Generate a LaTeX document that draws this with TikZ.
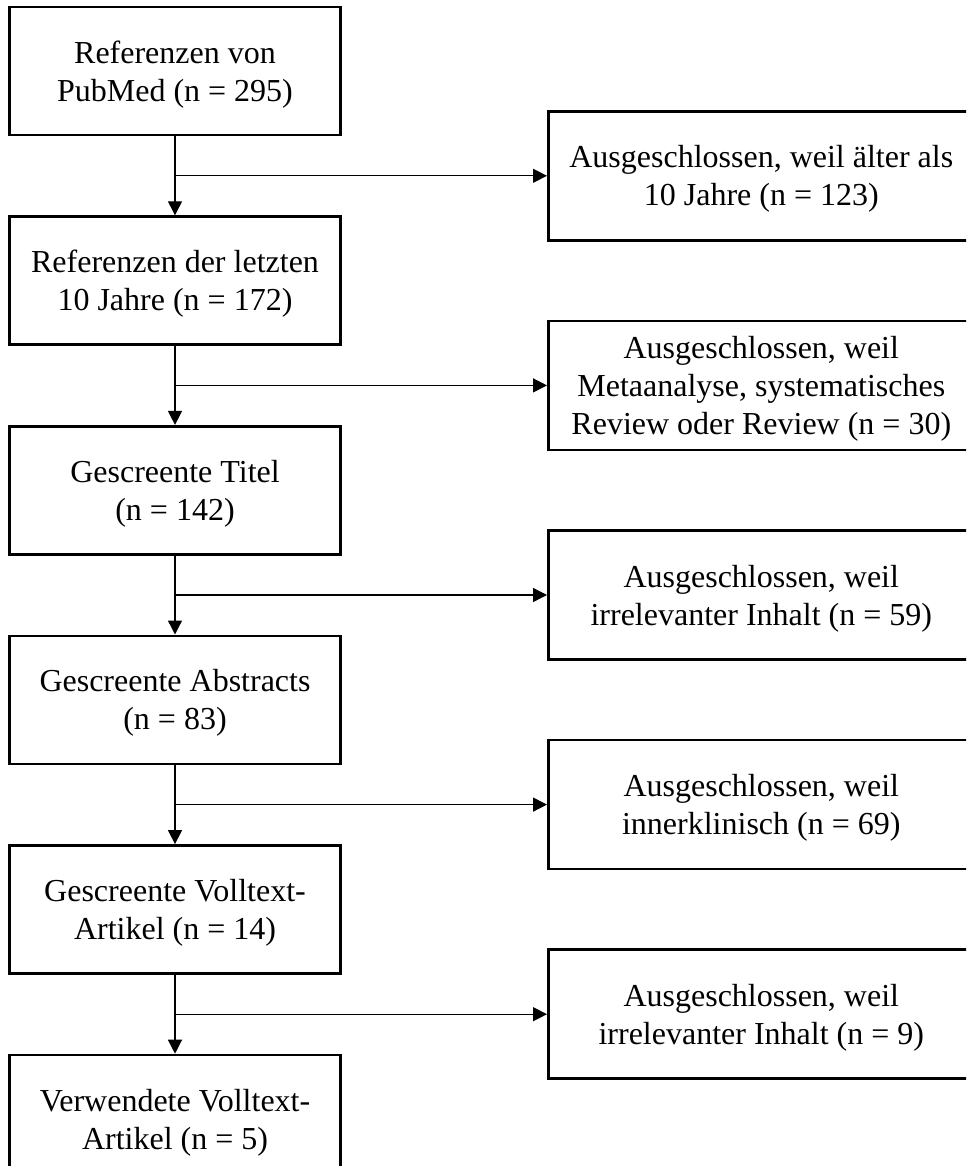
\documentclass[tikz,border=0pt]{standalone}
\usepackage{fontspec}
\setmainfont{Liberation Serif}
\usetikzlibrary{arrows.meta,positioning,calc}

\begin{document}
\begin{tikzpicture}[
  node distance=79pt,
  stage/.style={draw=black, line width=2.6pt, align=center,
                minimum width=331pt, minimum height=128pt,
                inner sep=0pt, text depth=-5pt,
                font=\fontsize{32}{38}\selectfont},
  excluded/.style={stage, minimum width=426pt, minimum height=129pt,
                   anchor=west},
  arrow/.style={-{Triangle[length=14pt, width=14pt]}, line width=1.3pt,
                draw=black}
]
  \useasboundingbox (0,0) rectangle (966pt,-1166pt);
  \clip (0,0) rectangle (966pt,-1166pt);

  \node[stage] (pubmed) at (175pt,-71pt) {Referenzen von\\PubMed (n = 295)};
  \node[stage, below=of pubmed] (recent) {Referenzen der letzten\\10 Jahre (n = 172)};
  \node[stage, below=of recent] (titles) {Gescreente Titel\\(n = 142)};
  \node[stage, below=of titles] (abstracts) {Gescreente Abstracts\\(n = 83)};
  \node[stage, below=of abstracts] (fulltext) {Gescreente Volltext-\\Artikel (n = 14)};
  \node[stage, below=of fulltext] (used) {Verwendete Volltext-\\Artikel (n = 5)};

  \coordinate (split1) at ($(pubmed.south)!0.5!(recent.north)$);
  \coordinate (split2) at ($(recent.south)!0.5!(titles.north)$);
  \coordinate (split3) at ($(titles.south)!0.5!(abstracts.north)$);
  \coordinate (split4) at ($(abstracts.south)!0.5!(fulltext.north)$);
  \coordinate (split5) at ($(fulltext.south)!0.5!(used.north)$);

  \node[excluded] (old) at ([xshift=372pt]split1)
    {Ausgeschlossen, weil älter als\\10 Jahre (n = 123)};
  \node[excluded] (reviews) at ([xshift=372pt]split2)
    {Ausgeschlossen, weil\\Metaanalyse, systematisches\\Review oder Review (n = 30)};
  \node[excluded] (offtopic) at ([xshift=372pt]split3)
    {Ausgeschlossen, weil\\irrelevanter Inhalt (n = 59)};
  \node[excluded] (inclinic) at ([xshift=372pt]split4)
    {Ausgeschlossen, weil\\innerklinisch (n = 69)};
  \node[excluded] (irrelevant) at ([xshift=372pt]split5)
    {Ausgeschlossen, weil\\irrelevanter Inhalt (n = 9)};

  \draw[arrow] (pubmed) -- (recent);
  \draw[arrow] (recent) -- (titles);
  \draw[arrow] (titles) -- (abstracts);
  \draw[arrow] (abstracts) -- (fulltext);
  \draw[arrow] (fulltext) -- (used);
  \draw[arrow] (split1) -- (old);
  \draw[arrow] (split2) -- (reviews);
  \draw[arrow] (split3) -- (offtopic);
  \draw[arrow] (split4) -- (inclinic);
  \draw[arrow] (split5) -- (irrelevant);
\end{tikzpicture}
\end{document}
